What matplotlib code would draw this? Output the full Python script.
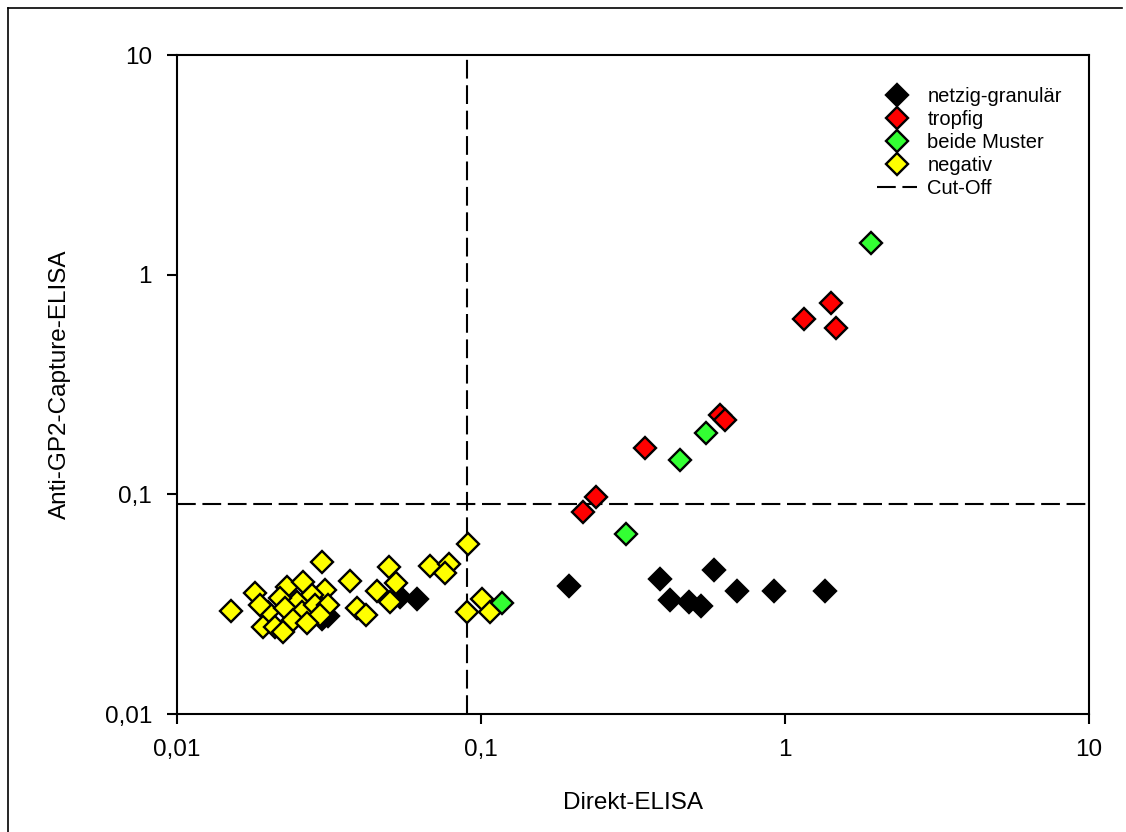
import matplotlib
matplotlib.use("Agg")
import matplotlib.pyplot as plt
from matplotlib.lines import Line2D

plt.rcParams['font.family'] = ['Liberation Sans', 'DejaVu Sans']

# Data
netzig_x = [0.195, 0.388, 0.418, 0.483, 0.529, 0.584, 0.695, 0.92, 1.355, 0.0542, 0.0616, 0.0300, 0.0315, 0.0270]
netzig_y = [0.0383, 0.0412, 0.0330, 0.0324, 0.0310, 0.0452, 0.0363, 0.0363, 0.0363, 0.0341, 0.0334, 0.0270, 0.0280, 0.0275]

tropfig_x = [1.155, 1.416, 1.47, 0.611, 0.635, 0.346, 0.239, 0.217]
tropfig_y = [0.628, 0.743, 0.571, 0.230, 0.218, 0.163, 0.097, 0.083]

beide_x = [1.92, 0.55, 0.452, 0.300, 0.117]
beide_y = [1.39, 0.19, 0.143, 0.066, 0.032]

negativ_x = [0.0150, 0.0181, 0.0300, 0.0371, 0.0498, 0.0525, 0.0455, 0.0502, 0.068, 0.0785,
             0.0762, 0.0906, 0.1007, 0.107, 0.090, 0.0391, 0.0419,
             0.0230, 0.0260, 0.0307, 0.0278, 0.0248, 0.0218, 0.0199, 0.0227, 0.0258,
             0.0284, 0.0314, 0.0295, 0.0192, 0.0210, 0.0241, 0.0268, 0.0223, 0.0188]
negativ_y = [0.0294, 0.0355, 0.0492, 0.0403, 0.0467, 0.0395, 0.0363, 0.0324, 0.0472, 0.0482,
             0.0438, 0.0594, 0.0334, 0.0291, 0.0291, 0.0304, 0.0282,
             0.0379, 0.0399, 0.0367, 0.0348, 0.0324, 0.0337, 0.0291, 0.0304, 0.0291,
             0.0313, 0.0313, 0.0282, 0.0249, 0.0249, 0.0268, 0.0259, 0.0236, 0.0313]

cutoff_x = 0.09
cutoff_y = 0.09

tick_values = [0.01, 0.1, 1, 10]
tick_labels = ["0,01", "0,1", "1", "10"]

W, H = 1126, 832
fig = plt.figure(figsize=(W / 100, H / 100), dpi=100)
ax = fig.add_axes([177 / W, 1 - 714 / H, (1089 - 177) / W, (714 - 55) / H])

ms = 11.5
mew = 1.7
ax.plot(netzig_x, netzig_y, linestyle='none', marker='D', ms=ms, mfc='black', mec='black', mew=mew,
        label='netzig-granulär', zorder=3)
ax.plot(negativ_x, negativ_y, linestyle='none', marker='D', ms=ms, mfc='#ffff00', mec='black', mew=mew,
        label='negativ', zorder=4)
ax.plot(tropfig_x, tropfig_y, linestyle='none', marker='D', ms=ms, mfc='#ff0000', mec='black', mew=mew,
        label='tropfig', zorder=5)
ax.plot(beide_x, beide_y, linestyle='none', marker='D', ms=ms, mfc='#33ff33', mec='black', mew=mew,
        label='beide Muster', zorder=5)

dash = (0, (9, 3.2))
ax.axvline(cutoff_x, color='black', lw=1.5, linestyle=dash, zorder=2)
ax.axhline(cutoff_y, color='black', lw=1.5, linestyle=dash, zorder=2, label='Cut-Off')

ax.set_xscale('log')
ax.set_yscale('log')
ax.set_xlim(0.01, 10)
ax.set_ylim(0.01, 10)
ax.set_xticks(tick_values)
ax.set_xticklabels(tick_labels)
ax.set_yticks(tick_values)
ax.set_yticklabels(tick_labels)
ax.minorticks_off()
ax.tick_params(axis='both', which='major', direction='out', length=7, width=1.5,
               labelsize=17.5, pad=11, top=False, right=False)
for s in ax.spines.values():
    s.set_linewidth(1.5)

ax.set_xlabel('Direkt-ELISA', fontsize=17.5, labelpad=22)
ax.set_ylabel('Anti-GP2-Capture-ELISA', fontsize=17.5, labelpad=24)

handles, labels = ax.get_legend_handles_labels()
order = ['netzig-granulär', 'tropfig', 'beide Muster', 'negativ', 'Cut-Off']
hmap = dict(zip(labels, handles))
leg = ax.legend([hmap[k] for k in order], order, loc='upper left',
                bbox_to_anchor=(877 / W, 1 - 87 / H), bbox_transform=fig.transFigure,
                frameon=False, fontsize=14.5, borderpad=0, borderaxespad=0,
                handlelength=2.0, handletextpad=0.5, labelspacing=0.2)

# Partial outer border (left and top)
fig.add_artist(Line2D([8 / W, 1122 / W], [1 - 8 / H, 1 - 8 / H], transform=fig.transFigure,
                      color='black', lw=1.2))
fig.add_artist(Line2D([8 / W, 8 / W], [1 - 8 / H, 0], transform=fig.transFigure,
                      color='black', lw=1.2))

fig.savefig('out.png', dpi=100)
